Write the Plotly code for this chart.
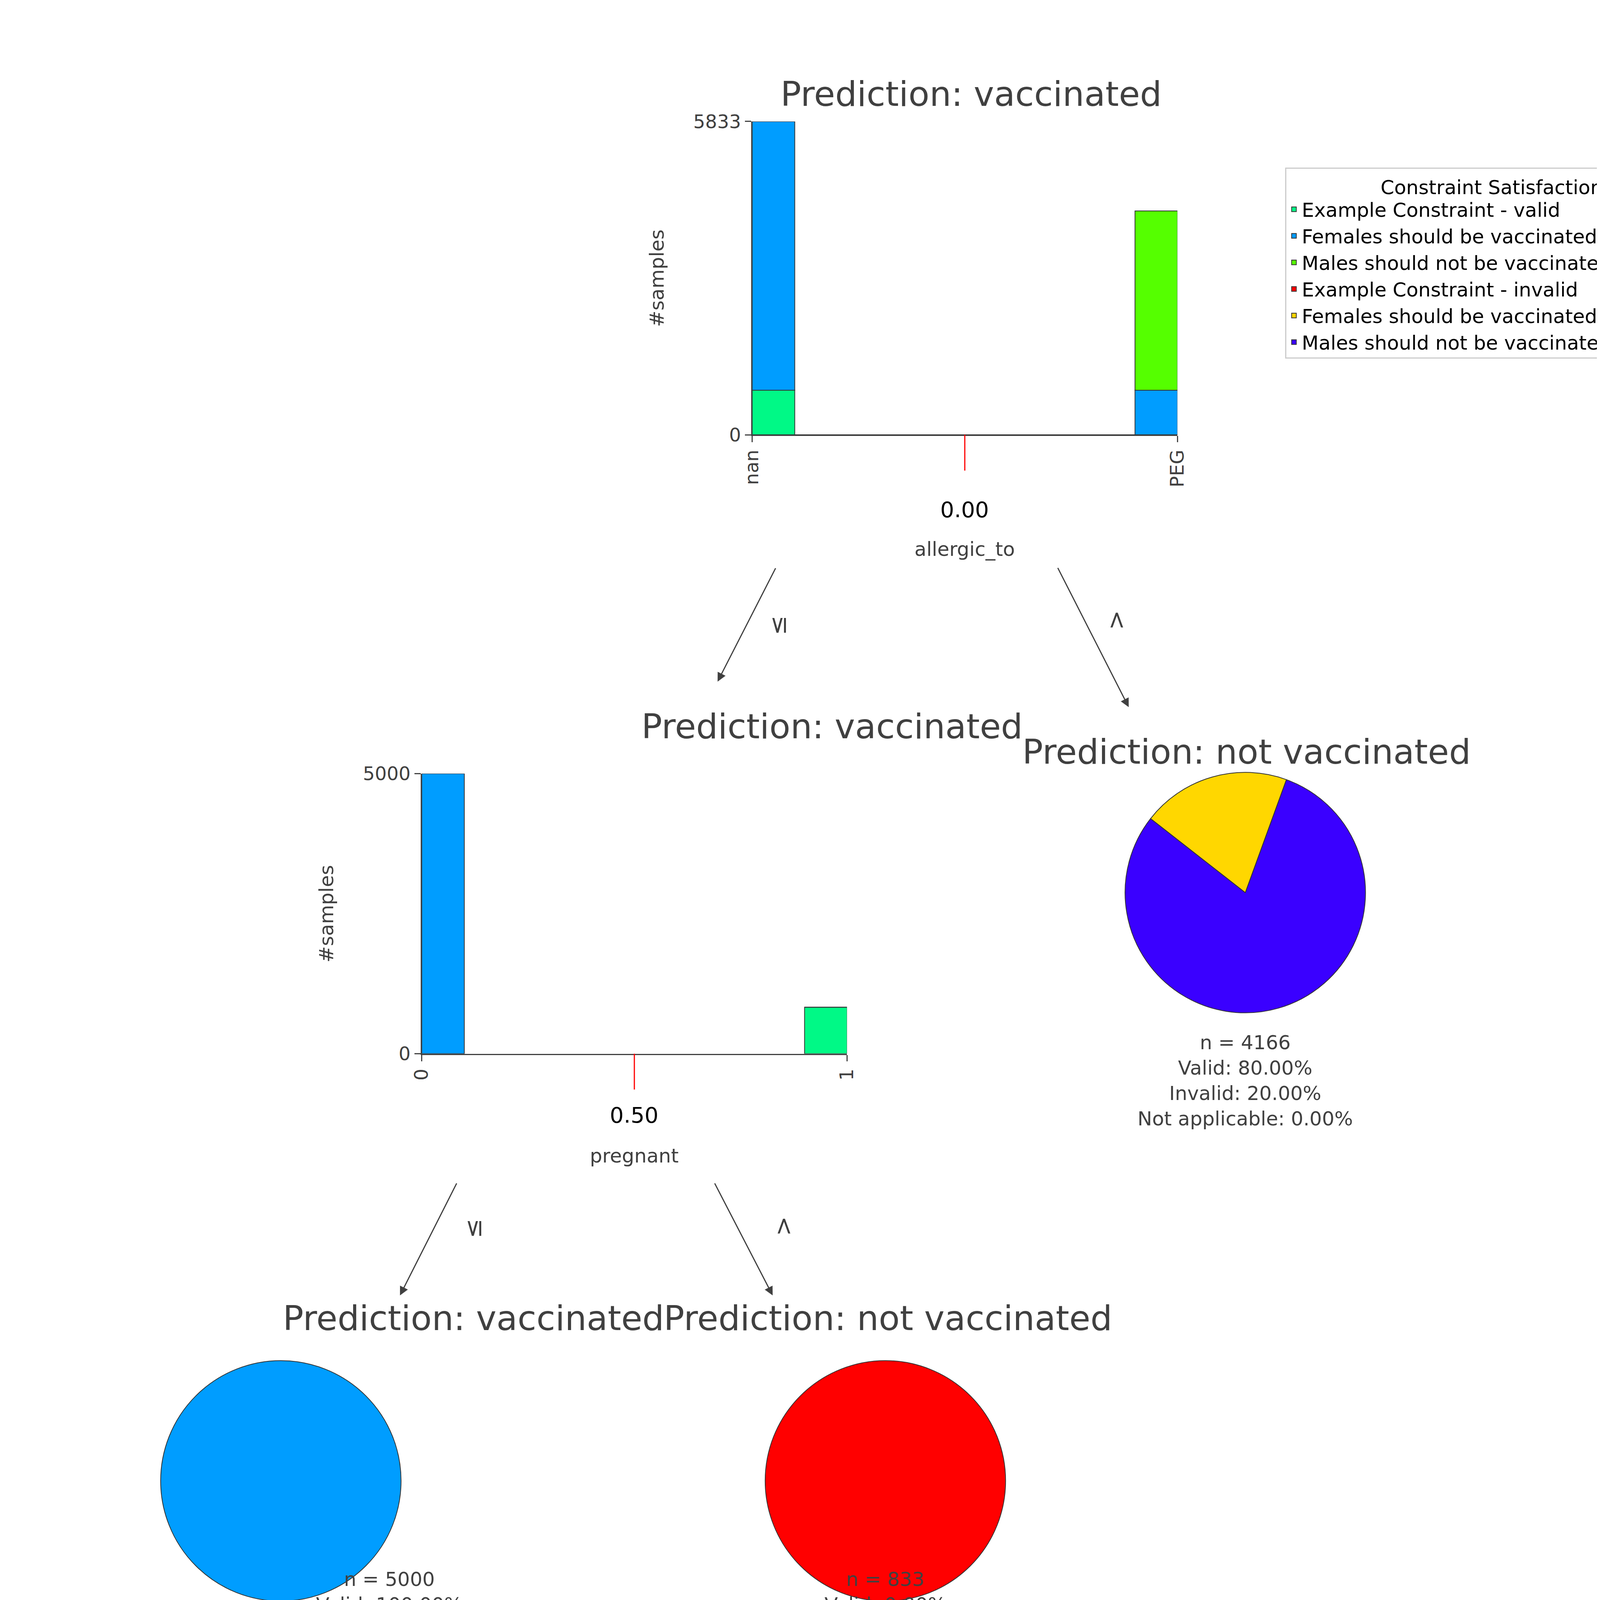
import plotly.graph_objects as go

W, H = 5125, 4469
RW, RH = 1546.0, 1348.0  # layout designed in reduced pixel units
S = W / RW

names = ["Example Constraint - valid", "Females should be vaccinated - valid",
         "Males should not be vaccinated - invalid", "Example Constraint - invalid",
         "Females should be vaccinated - invalid", "Males should not be vaccinated - valid"]
colors = ["#00F986", "#009DFF", "#55FF00", "#FF0000", "#FFD700", "#3A00FF"]

# root histogram (allergic_to): bins nan / PEG
root_ticks = ["nan", "PEG"]
root_vals = {0: [833, 0], 1: [5000, 833], 2: [0, 3333]}
root_max = 5833
# second histogram (pregnant)
preg_ticks = ["0", "1"]
preg_vals = {0: [0, 833], 1: [5000, 0]}
preg_max = 5000
# leaves
leaf_right = [3333, 833]       # Males valid, Females invalid
leaf_right_cols = [5, 4]
leaf_bl = [5000]
leaf_bl_cols = [1]
leaf_br = [833]
leaf_br_cols = [3]

TXT = "#404040"
FONT = "DejaVu Sans"

def px(x):
    return x / RW

def py(y):
    return 1 - y / RH

fig = go.Figure()

def hist(ax, vals, ticks, vmax, dom_x, dom_y, thr, label, fname):
    xa = "x" if ax == 1 else "x%d" % ax
    ya = "y" if ax == 1 else "y%d" % ax
    base = [0, 0]
    for k in sorted(vals):
        fig.add_trace(go.Bar(x=[0.05, 0.95], y=vals[k], base=base, width=0.1,
                             marker=dict(color=colors[k], line=dict(color="#333333", width=2)),
                             name=names[k], legendgroup=names[k], showlegend=False,
                             xaxis=xa, yaxis=ya))
        base = [b + v for b, v in zip(base, vals[k])]
    xkey = "xaxis" if ax == 1 else "xaxis%d" % ax
    ykey = "yaxis" if ax == 1 else "yaxis%d" % ax
    fig.update_layout(**{
        xkey: dict(domain=[px(dom_x[0]), px(dom_x[1])], range=[0, 1], anchor=ya,
                   tickvals=[0, 1], ticktext=ticks, tickangle=-90, ticks="outside",
                   ticklen=16, tickwidth=3, showline=True, linecolor="#404040", linewidth=3,
                   showgrid=False, zeroline=False, tickfont=dict(size=48, color=TXT)),
        ykey: dict(domain=[py(dom_y[1]), py(dom_y[0])], range=[0, vmax], anchor=xa,
                   tickvals=[0, vmax], ticks="outside", ticklen=16, tickwidth=3,
                   showline=True, linecolor="#404040", linewidth=3, showgrid=False,
                   zeroline=False, tickfont=dict(size=48, color=TXT),
                   title=dict(text="#samples", font=dict(size=50, color=TXT), standoff=60)),
    })
    fig.add_shape(type="line", xref=xa, yref="paper", x0=thr, x1=thr,
                  y0=py(dom_y[1]), y1=py(dom_y[1] + 28), line=dict(color="red", width=3))
    fig.add_annotation(xref=xa, yref="paper", x=thr, y=py(dom_y[1] + 48), text=label,
                       showarrow=False, font=dict(size=56, color="black"))
    fig.add_annotation(xref=xa, yref="paper", x=thr, y=py(dom_y[1] + 80), text=fname,
                       showarrow=False, font=dict(size=50, color=TXT))

hist(1, root_vals, root_ticks, root_max, (576, 908), (84, 329), 0.5, "0.00", "allergic_to")
hist(2, preg_vals, preg_ticks, preg_max, (318, 650), (594, 813), 0.5, "0.50", "pregnant")

def pie(vals, cols, cx, cy, r):
    fig.add_trace(go.Pie(values=vals, labels=[names[c] for c in cols], sort=False,
                         direction="clockwise", rotation=20 if len(vals) > 1 else 0,
                         marker=dict(colors=[colors[c] for c in cols],
                                     line=dict(color="#333333", width=2)),
                         textinfo="none", showlegend=False, hoverinfo="label+value",
                         domain=dict(x=[px(cx - r), px(cx + r)], y=[py(cy + r), py(cy - r)])))

pie(leaf_right, leaf_right_cols, 961, 687, 94)
pie(leaf_bl, leaf_bl_cols, 208, 1147, 94)
pie(leaf_br, leaf_br_cols, 680, 1147, 94)

# legend entries
for i in range(6):
    fig.add_trace(go.Bar(x=[0.5], y=[0], name=names[i], marker=dict(color=colors[i],
                         line=dict(color="#333333", width=2)), showlegend=True,
                         xaxis="x", yaxis="y", hoverinfo="skip"))

def txt(x, y, s, size, color=TXT, angle=0):
    fig.add_annotation(xref="paper", yref="paper", x=px(x), y=py(y), text=s,
                       showarrow=False, textangle=angle, font=dict(size=size, color=color))

txt(747, 46, "Prediction: vaccinated", 88)
txt(489, 557, "Prediction: vaccinated", 88)
txt(962, 577, "Prediction: not vaccinated", 88)
txt(209, 1036, "Prediction: vaccinated", 88)
txt(682, 1036, "Prediction: not vaccinated", 88)

txt(961, 834, "n = 4166<br>Valid: 80.00%<br>Invalid: 20.00%<br>Not applicable: 0.00%", 50)
txt(208, 1293, "n = 5000<br>Valid: 100.00%<br>Invalid: 0.00%<br>Not applicable: 0.00%", 50)
txt(680, 1293, "n = 833<br>Valid: 0.00%<br>Invalid: 100.00%<br>Not applicable: 0.00%", 50)

def arrow(x0, y0, x1, y1):
    fig.add_annotation(xref="paper", yref="paper", axref="pixel", ayref="pixel",
                       x=px(x1), y=py(y1), ax=(x0 - x1) * S, ay=(y0 - y1) * S, text="",
                       showarrow=True, arrowhead=2, arrowsize=1.5, arrowwidth=3,
                       arrowcolor="#404040")

arrow(594, 434, 549, 522)
arrow(815, 434, 870, 542)
arrow(345, 915, 301, 1002)
arrow(547, 915, 592, 1002)
txt(596, 478, "≤", 60, angle=-90)
txt(860, 474, "&gt;", 60, angle=-90)
txt(347, 958, "≤", 60, angle=-90)
txt(600, 956, "&gt;", 60, angle=-90)

fig.update_layout(
    width=W, height=H, barmode="overlay", bargap=0,
    paper_bgcolor="white", plot_bgcolor="white",
    margin=dict(l=0, r=0, t=0, b=0),
    font=dict(family=FONT, color=TXT),
    legend=dict(x=px(992), y=py(120), xanchor="left", yanchor="top",
                bordercolor="#cccccc", borderwidth=3, bgcolor="white",
                font=dict(size=50, color="black"),
                title=dict(text="Constraint Satisfaction", side="top center",
                           font=dict(size=50, color="black")),
                itemsizing="constant", tracegroupgap=0),
)

fig.write_html("out.html")
